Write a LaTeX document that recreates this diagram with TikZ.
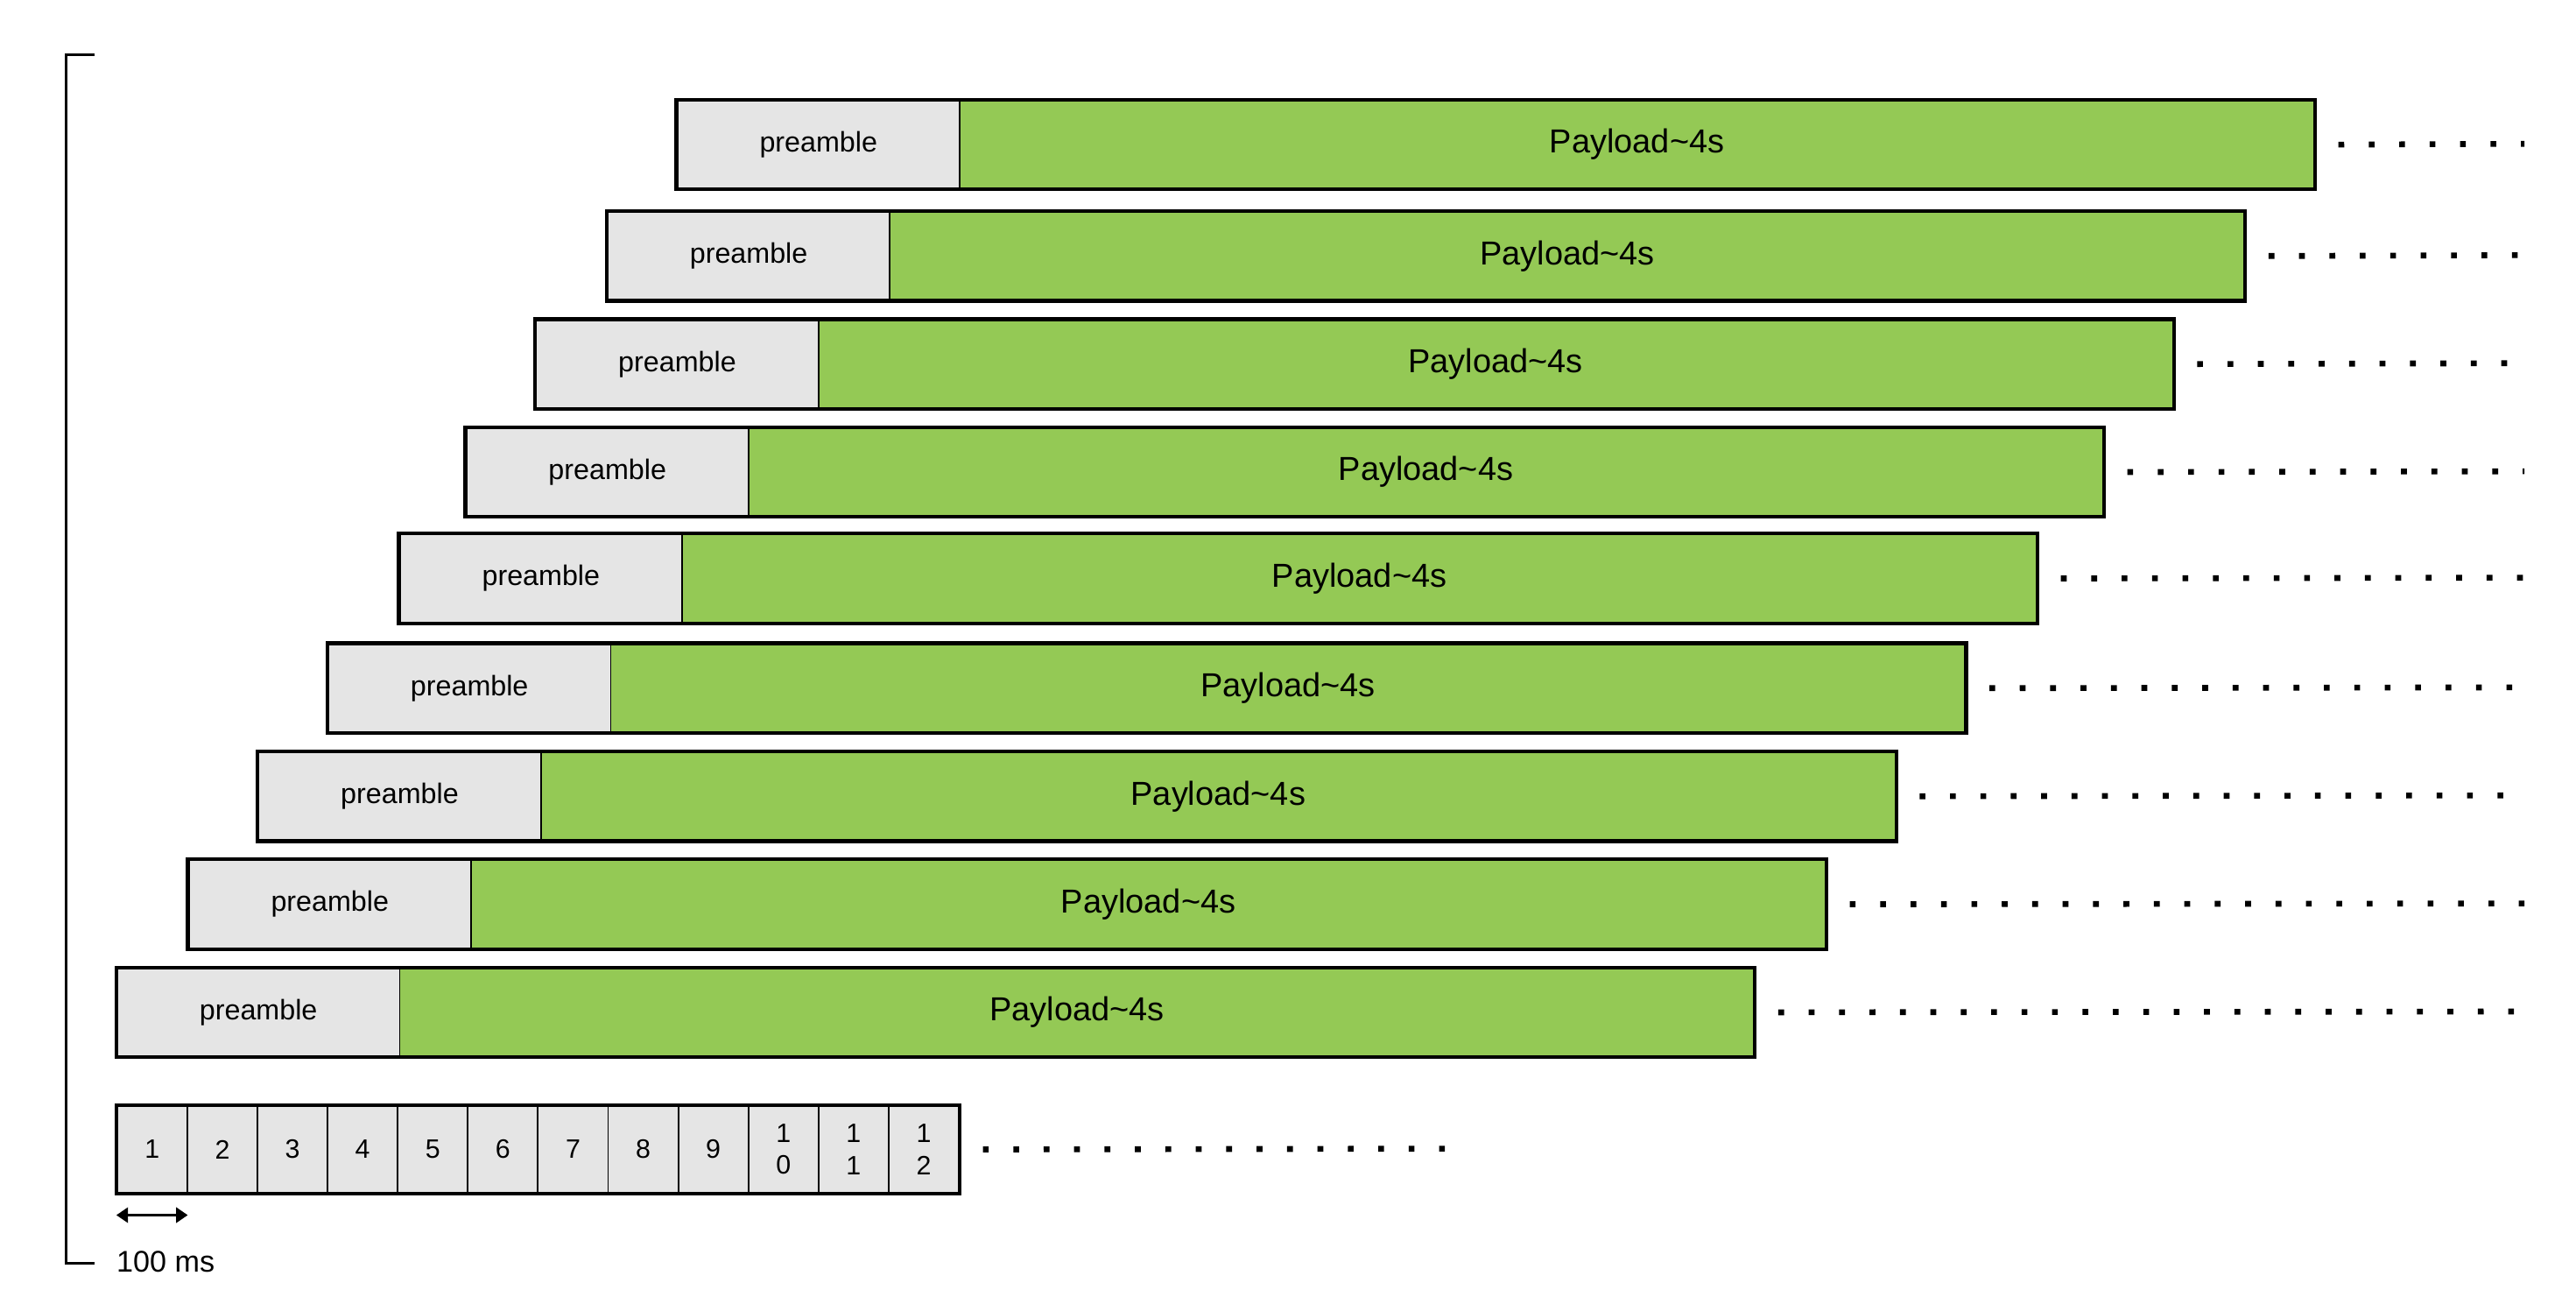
\documentclass[tikz,border=0pt]{standalone}
\usepackage{fontspec}
\setmainfont{Liberation Sans}
\usetikzlibrary{arrows.meta}
\begin{document}
\begin{tikzpicture}[x=1pt,y=-1pt,
  pre/.style={draw,line width=1pt,fill=gray!20!white,minimum width=170pt,minimum height=53pt,inner sep=0pt,anchor=north west,font=\fontsize{17}{20}\selectfont},
  pay/.style={draw,line width=1pt,fill={rgb,255:red,148;green,201;blue,85},minimum width=815pt,minimum height=53pt,inner sep=0pt,anchor=north west,font=\fontsize{20}{24}\selectfont},
  frame/.style={draw,line width=2.2pt},
  slot/.style={draw,line width=1pt,fill=gray!20!white,minimum width=42.2pt,minimum height=52pt,inner sep=0pt,anchor=north west,font=\fontsize{16}{19}\selectfont,align=center},
  dots/.style={line width=3.5pt,dash pattern=on 3.5pt off 14.8pt}]
\useasboundingbox (0,0) rectangle (1550,780);
\foreach \i/\x/\y in {1/407/60,2/365/127,3/322/192,4/280/257,5/240/321,6/197/387,7/155/452,8/113/517,9/70/582}{
  \node[pre] (p\i) at (\x,\y) {preamble};
  \node[pay] (l\i) at (\x+170,\y) {Payload\textasciitilde4s};
  \draw[frame] (p\i.north west) rectangle (l\i.south east);
  \coordinate (d\i) at ([xshift=14pt]l\i.east);
  \coordinate (e\i) at (1519,\y+26.5);
  \draw[dots] (d\i) -- (e\i);
}
\foreach \n/\t in {1/1,2/2,3/3,4/4,5/5,6/6,7/7,8/8,9/9,10/{1\\0},11/{1\\1},12/{1\\2}}{
  \node[slot] (s\n) at ({70+(\n-1)*42.2},665) {\t};
}
\draw[frame] (s1.north west) rectangle (s12.south east);
\coordinate (sd) at ([xshift=14pt]s12.east);
\coordinate (se) at (884,691);
\draw[dots] (sd) -- (se);
\coordinate (a1) at (70,731);
\coordinate (a2) at (113,731);
\draw[line width=2pt,{Triangle[length=7pt,width=9pt]}-{Triangle[length=7pt,width=9pt]}] (a1) -- (a2);
\node[anchor=west,inner sep=0pt,font=\fontsize{18}{21}\selectfont] (ms) at (70,759) {100 ms};
\coordinate (b1) at (57,33);
\coordinate (b2) at (57,760);
\draw[line width=1.5pt] (b1) -- (40,33) -- (40,760) -- (b2);
\end{tikzpicture}
\end{document}
